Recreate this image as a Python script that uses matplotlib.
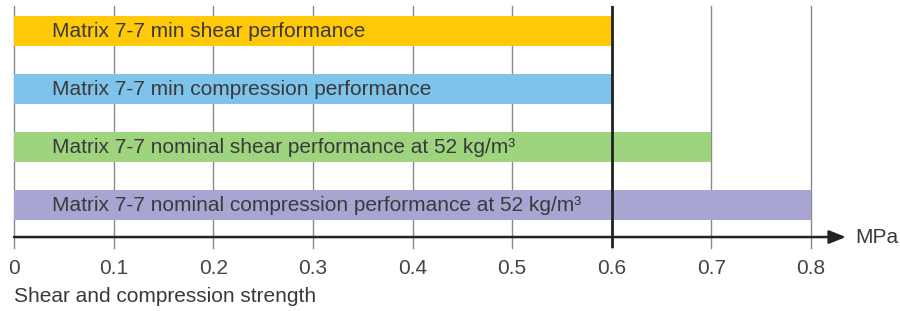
import matplotlib.pyplot as plt

# data
labels = ['Matrix 7-7 min shear performance',
          'Matrix 7-7 min compression performance',
          'Matrix 7-7 nominal shear performance at 52 kg/m³',
          'Matrix 7-7 nominal compression performance at 52 kg/m³']
values = [0.6, 0.6, 0.7, 0.8]
colors = ['#FFC907', '#7DC3EA', '#9ED47E', '#A9A5D2']
ticks = [0, 0.1, 0.2, 0.3, 0.4, 0.5, 0.6, 0.7, 0.8]
tick_labels = ['0', '0.1', '0.2', '0.3', '0.4', '0.5', '0.6', '0.7', '0.8']
min_req = 0.6

plt.rcParams['font.family'] = ['Liberation Sans', 'DejaVu Sans']

fig = plt.figure(figsize=(9, 3.11), dpi=100)
# axes covers pixel x 14..811 and y 6..248
ax = fig.add_axes([14/900, 1 - 248/311, (811-14)/900, (248-6)/311])
ax.set_xlim(0, 0.8)
ax.set_ylim(3.741, -0.431)
ax.axis('off')

for t in ticks:
    ax.axvline(t, color='#8a8a8a', lw=1.0, zorder=1, clip_on=False)
ax.axvline(min_req, color='#222222', lw=2.0, zorder=3)

ypos = list(range(len(values)))
ax.barh(ypos, values, height=0.517, color=colors, zorder=2)
for y, lab in zip(ypos, labels):
    ax.text(0.038, y, lab, va='center', ha='left', fontsize=15, color='#3a3a3a', zorder=4)

# x axis with arrow
axis_y = 3.552
ax.annotate('', xy=(0.835, axis_y), xytext=(0, axis_y), xycoords='data',
            arrowprops=dict(arrowstyle='-|>,head_length=1.0,head_width=0.4',
                            color='#222222', lw=1.8, shrinkA=0, shrinkB=0),
            annotation_clip=False, zorder=3)
ax.text(0.844, axis_y, 'MPa', va='center', ha='left', fontsize=15, color='#3a3a3a', clip_on=False)

for t, tl in zip(ticks, tick_labels):
    fig.text((14 + t/0.8*797)/900, 1 - 268/311, tl, ha='center', va='center',
             fontsize=15, color='#444444')

fig.text(14/900, 1 - 297/311, 'Shear and compression strength', ha='left', va='center',
         fontsize=15, color='#3a3a3a')

fig.savefig('out.png', dpi=100)
